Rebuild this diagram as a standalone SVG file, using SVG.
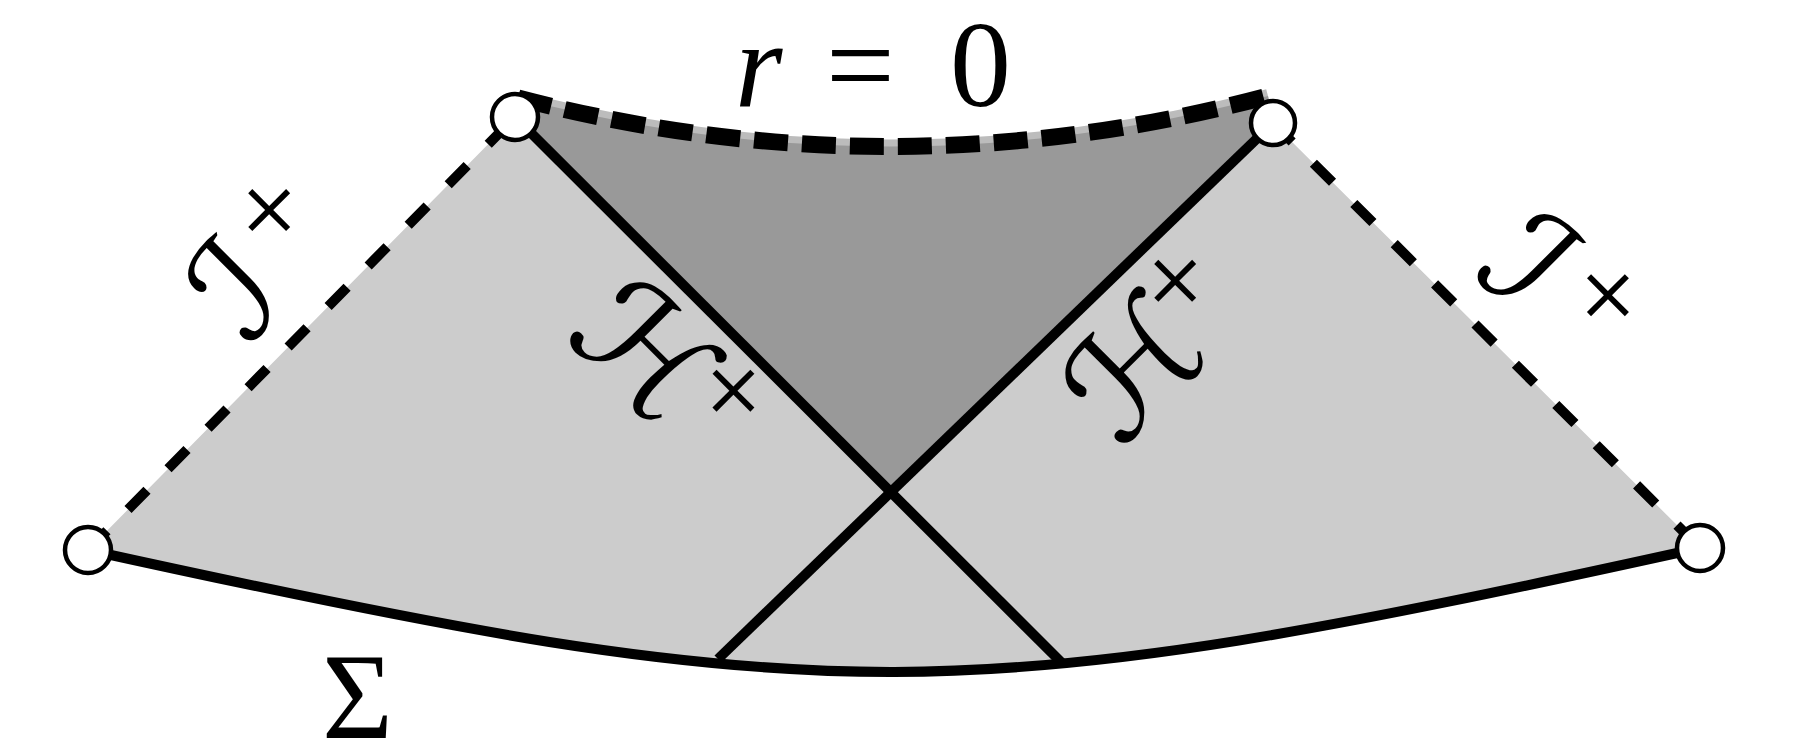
<svg xmlns="http://www.w3.org/2000/svg" width="1797" height="754" viewBox="0 0 1797 754">
<style>
.solid{fill:none;stroke:#000;stroke-width:10;stroke-linecap:butt}
.scri{fill:none;stroke:#000;stroke-width:10;stroke-dasharray:27 30}
.sing{fill:none;stroke:#000;stroke-width:17;stroke-dasharray:34 14}
.node{fill:#fff;stroke:#000;stroke-width:4.5}
.lab{font-family:"DejaVu Serif","DejaVu Sans",serif;font-size:140px;fill:#000}
.pl{font-family:"Liberation Serif",serif;font-size:115px;fill:#000}
.math{font-family:"Liberation Serif",serif;font-size:122px;fill:#000}
</style>
<rect width="1797" height="754" fill="#fff"/>
<g id="regions">
<path d="M88,550 L515,117 L891,491 L1273,123 L1700,548 C955,712 833,714 88,550 Z" fill="#cccccc"/>
<path d="M518,98 Q893,196 1268,96" fill="none" stroke="#bcbcbc" stroke-width="14"/>
<path d="M515,117 L518,98 Q893,196 1268,96 L1273,123 L891,491 Z" fill="#999999"/>
</g>
<g id="connectors">
<path id="scri-left" class="scri" d="M88,550 L515,117"/>
<path id="scri-right" class="scri" d="M1273,123 L1700,548"/>
<path id="singularity" class="sing" d="M518,98 Q893,196 1268,96"/>
<path id="horizon-minus" class="solid" d="M515,117 L1062,663"/>
<path id="horizon-plus" class="solid" d="M1273,123 L718,659"/>
<path id="sigma" class="solid" d="M88,550 C833,714 955,712 1700,548"/>
</g>
<g id="node-left"><circle class="node" cx="88" cy="550" r="23"/></g>
<g id="node-top-left"><circle class="node" cx="515" cy="117" r="23"/></g>
<g id="node-top-right"><circle class="node" cx="1273" cy="123" r="22"/></g>
<g id="node-right"><circle class="node" cx="1700" cy="548" r="23"/></g>
<g id="labels">
<text class="math" y="106"><tspan x="735" font-style="italic">r</tspan><tspan x="826">=</tspan><tspan x="950">0</tspan></text>
<g transform="translate(236,290) rotate(-45)">
<text class="lab" x="0" y="48" text-anchor="middle">ℐ</text>
<text class="pl" x="80" y="5" text-anchor="middle">+</text>
</g>
<g transform="translate(1528,262) rotate(45)">
<text class="lab" x="0" y="48" text-anchor="middle">ℐ</text>
<text class="pl" x="80" y="5" text-anchor="middle">+</text>
</g>
<g transform="translate(645,352) rotate(45)">
<text class="lab" x="0" y="48" text-anchor="middle">ℋ</text>
<text class="pl" x="90" y="3" text-anchor="middle">+</text>
</g>
<g transform="translate(1135,368) rotate(-45)">
<text class="lab" x="0" y="48" text-anchor="middle">ℋ</text>
<text class="pl" x="90" y="5" text-anchor="middle">+</text>
</g>
<text class="math" x="322" y="738">Σ</text>
</g>
</svg>
